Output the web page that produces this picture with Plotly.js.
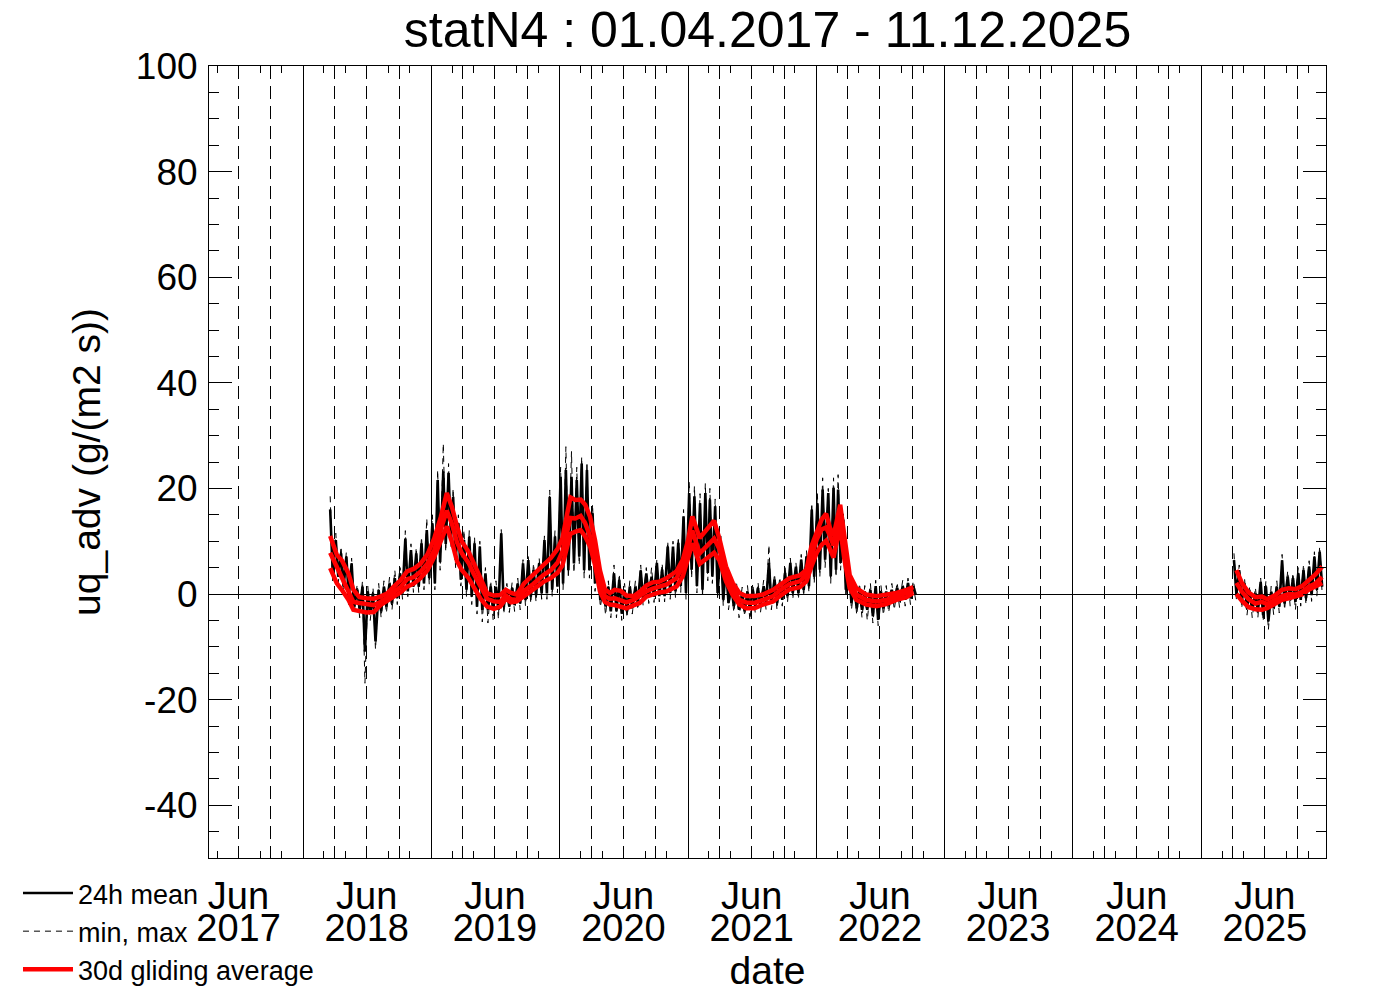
<!DOCTYPE html>
<html>
<head>
<meta charset="utf-8">
<script src="https://cdn.plot.ly/plotly-3.0.1.min.js"></script>
<style>html,body{margin:0;padding:0;background:#fff;}#chart{width:1388px;height:992px;}</style>
</head>
<body>
<div id="chart"></div>
<script>
// ---------- tick labels ----------
const labelDates = ['2017-07-01','2018-07-01','2019-07-01','2020-07-01','2021-07-01','2022-07-01','2023-07-01','2024-07-01','2025-07-01'];
const monthLabels = ['Jun','Jun','Jun','Jun','Jun','Jun','Jun','Jun','Jun'];
const yearLabels = ['2017','2018','2019','2020','2021','2022','2023','2024','2025'];
const yTickVals = [-40,-20,0,20,40,60,80,100];
const yTickText = ['-40','-20','0','20','40','60','80','100'];

// ---------- 24h mean and min/max envelopes, semi-monthly, segment A (Mar 2018 - Oct 2022) ----------
const segAFirst = [2018, 3, 1];   // year, month, half (0 = 1st half, 1 = 2nd half)
const meanHiA = [16.0,10.2,7.7,7.1,5.8,0.8,1.4,0.5,0.1,0.8,1.4,2.0,3.0,3.9,10.5,8.3,7.7,9.6,12.1,
  13.4,21.6,23.2,22.9,18.4,13.4,10.2,10.9,9.6,9.0,3.9,1.4,1.4,11.5,0.8,1.1,2.0,5.8,6.4,4.5,5.8,10.2,18.4,10.9,
  22.2,23.5,22.2,21.6,24.7,23.5,15.3,5.8,0.8,1.4,3.9,2.7,0.8,1.4,1.4,4.5,3.9,3.3,5.9,4.6,9.0,9.0,9.7,14.7,
  19.1,18.5,17.2,19.1,17.9,16.6,9.7,5.2,1.5,0.8,0.2,0.5,0.8,1.1,1.5,5.9,2.7,2.1,4.0,5.9,5.2,6.5,7.1,16.0,
  17.2,19.8,19.1,20.1,19.8,14.1,4.6,1.5,0.8,0.5,0.8,1.5,0.5,0.5,0.8,1.1,1.5,2.1,1.5];
const meanLoA = [4.5,3.3,1.4,-0.5,-2.4,-3.0,-10.9,-3.7,-9.0,-3.3,-2.4,-1.8,-0.8,0.1,0.5,1.4,1.4,2.0,3.0,
  2.0,6.0,9.5,10.5,6.5,2.7,0.8,-0.5,-2.4,-3.0,-3.0,-3.0,-3.0,-2.4,-2.4,-2.1,-1.8,-1.1,-0.5,-0.2,0.1,0.1,0.8,1.4,
  2.0,4.5,5.8,7.1,4.5,4.5,2.0,-1.1,-2.4,-3.3,-3.3,-3.7,-3.3,-2.7,-1.8,-1.1,-0.5,-0.5,-0.4,-0.4,0.2,0.5,1.5,0.2,
  4.6,1.5,0.8,4.0,3.3,0.2,-1.1,-1.7,-2.3,-3.0,-3.3,-3.0,-2.3,-2.3,-1.7,-1.7,-1.7,-1.1,-0.4,0.2,0.2,0.8,1.5,3.3,
  4.6,6.5,3.3,4.6,5.9,0.8,-1.7,-2.7,-3.0,-3.0,-4.2,-4.9,-2.7,-2.3,-1.7,-1.4,-1.1,-0.8,-0.1];
const maxHiA = [18.5,11.5,9.0,8.0,6.8,1.8,2.5,1.5,1.2,2.0,2.5,3.2,4.5,5.0,12.0,9.5,8.8,10.8,14.3,
  15.0,23.5,28.5,24.7,20.0,15.0,12.1,12.0,10.8,10.0,5.0,2.5,2.5,12.2,2.0,2.2,3.0,6.5,7.1,5.8,6.8,11.0,19.7,12.0,
  24.0,27.9,27.0,24.0,26.0,25.0,17.0,7.0,2.0,2.5,5.5,3.8,2.0,2.5,2.5,5.5,5.0,5.0,6.5,5.8,10.0,10.0,10.8,16.0,
  21.3,20.5,19.0,21.0,20.0,18.0,11.0,6.3,2.6,2.0,1.3,1.6,2.0,2.2,2.6,9.3,3.8,3.2,5.2,6.8,5.9,7.5,8.2,17.2,
  19.0,22.0,20.0,22.0,22.6,15.5,5.7,2.6,2.0,1.6,2.0,2.6,1.6,1.6,2.0,2.2,2.6,3.0,2.5];
const minLoA = [2.5,2.0,0.0,-2.0,-3.7,-4.5,-16.9,-5.0,-10.5,-4.5,-3.6,-3.0,-2.0,-1.0,-0.5,0.3,0.3,0.8,1.8,
  0.8,4.5,8.0,9.0,5.0,1.5,-0.5,-2.0,-3.8,-5.3,-5.5,-5.0,-4.8,-3.8,-3.5,-3.3,-3.0,-2.3,-1.8,-1.5,-1.0,-1.0,-0.5,0.2,
  0.8,3.0,4.0,5.5,3.0,3.0,0.5,-2.5,-4.0,-4.5,-4.5,-5.0,-4.5,-3.8,-3.0,-2.3,-1.8,-1.6,-1.5,-1.5,-1.0,-0.7,0.3,-1.0,
  3.0,0.2,-0.5,2.5,2.0,-1.0,-2.3,-3.0,-3.5,-4.5,-4.2,-5.0,-3.5,-3.5,-3.0,-3.0,-3.0,-2.3,-1.6,-1.0,-1.0,-0.4,0.3,2.0,
  3.2,5.0,2.0,3.2,4.5,-0.5,-3.0,-4.0,-4.5,-5.0,-5.5,-6.0,-4.0,-3.5,-3.0,-2.6,-2.3,-2.0,-1.2];

// ---------- segment B (Apr 2025 - Dec 2025) ----------
const segBFirst = [2025, 4, 0];
const meanHiB = [6.4,4.5,2.0,0.4,0.1,2.3,1.4,0.4,1.4,6.4,3.3,3.0,3.9,4.5,5.2,7.1,8.0];
const meanLoB = [0.0,-1.5,-2.7,-3.0,-3.3,-4.0,-5.2,-2.7,-2.4,-1.8,-1.1,-1.5,-1.1,-0.8,-0.2,0.8,1.4];
const maxHiB = [7.7,5.5,3.0,1.5,1.2,3.0,2.5,1.5,2.5,7.5,4.4,4.0,5.0,5.6,6.3,8.0,9.0];
const minLoB = [-1.2,-2.7,-4.0,-4.5,-4.5,-5.2,-6.8,-3.9,-3.6,-3.0,-2.3,-3.0,-2.3,-2.0,-1.4,-0.4,0.2];

// ---------- 30d gliding averages (upper, mean, lower) ----------
const redDates = ['2018-03-19','2018-04-07','2018-04-21','2018-05-10','2018-05-24','2018-06-10','2018-07-01','2018-07-21','2018-08-09','2018-08-28',
  '2018-09-16','2018-10-05','2018-10-24','2018-11-13','2018-12-01','2018-12-21','2019-01-09','2019-01-28','2019-02-14','2019-03-01',
  '2019-03-15','2019-03-29','2019-04-17','2019-05-01','2019-05-21','2019-06-09','2019-06-28','2019-07-16','2019-08-01','2019-08-16',
  '2019-09-01','2019-09-22','2019-10-18','2019-11-16','2019-12-07','2019-12-26','2020-01-09','2020-01-23','2020-02-01','2020-02-15',
  '2020-03-01','2020-03-14','2020-03-28','2020-04-11','2020-04-25','2020-05-09','2020-05-23','2020-06-06','2020-06-23','2020-07-09',
  '2020-07-31','2020-08-16','2020-09-04','2020-09-22','2020-10-10','2020-11-01','2020-11-29','2020-12-17','2021-01-01','2021-01-13',
  '2021-02-03','2021-03-16','2021-03-31','2021-04-19','2021-05-08','2021-05-27','2021-06-15','2021-07-09','2021-08-02','2021-08-31',
  '2021-09-19','2021-10-17','2021-11-15','2021-12-04','2021-12-18','2022-01-02','2022-01-16','2022-01-29','2022-02-09','2022-02-19',
  '2022-02-28','2022-03-10','2022-03-22','2022-04-06','2022-04-25','2022-05-23','2022-06-21','2022-07-19','2022-08-17','2022-09-15',
  '2022-10-04','2023-06-01',
  '2025-04-11','2025-04-27','2025-05-16','2025-06-04','2025-06-23','2025-07-07','2025-07-31','2025-08-19','2025-09-07','2025-09-26',
  '2025-10-15','2025-11-03','2025-11-22','2025-12-11'];
const redUpper = [11.0,7.4,6.4,3.9,0.8,-0.6,-0.8,-0.9,-0.5,0.1,
  1.4,2.6,4.3,4.8,5.7,7.5,10.5,14.6,19.1,16.4,
  12.8,9.9,8.0,6.1,3.0,0.1,-0.3,-0.2,0.8,0.2,
  -0.1,2.0,3.6,5.6,6.8,8.5,10.5,15.3,18.3,17.8,
  17.9,16.9,14.6,10.2,4.5,0.9,0.2,0.8,0.6,-0.3,
  -0.4,0.4,1.6,2.2,2.3,3.0,4.3,6.5,10.2,14.7,
  10.6,13.9,10.5,5.2,2.1,0.2,-0.4,-0.4,-0.1,0.8,
  1.6,3.0,3.5,4.6,9.0,11.6,14.1,15.2,12.5,11.0,
  13.5,16.9,10.9,3.6,1.1,-0.1,-0.4,-0.1,0.2,0.8,
  1.3,null,
  4.5,2.0,0.25,-0.6,-0.5,-1.0,-0.2,0.8,1.1,0.9,
  1.5,2.5,3.7,5.2];
const redMean = [7.8,5.2,3.3,0.8,-1.5,-1.7,-1.9,-2.1,-1.5,-0.7,
  0.4,1.3,2.8,3.2,4.2,5.8,8.3,12.1,15.8,13.2,
  9.8,7.7,5.9,3.9,1.2,-0.9,-1.4,-1.5,-0.3,-1.0,
  -1.1,0.6,1.9,3.6,4.5,5.9,8.0,12.1,14.4,14.3,
  14.8,13.4,10.9,7.5,2.5,-0.4,-0.9,-0.8,-1.1,-1.6,
  -1.1,-0.4,0.5,1.0,1.3,1.8,3.0,5.3,8.8,12.0,
  7.7,10.5,8.5,3.7,0.8,-1.1,-1.6,-1.7,-1.1,-0.4,
  0.7,1.9,2.4,3.6,7.1,10.3,12.2,12.6,11.0,9.2,
  12.5,14.5,7.8,2.1,-0.1,-1.1,-1.4,-1.1,-0.4,0.2,
  0.6,null,
  2.1,0.4,-1.0,-1.8,-1.5,-1.9,-1.1,-0.4,0.0,-0.1,
  0.4,1.4,2.0,3.2];
const redLower = [4.9,2.0,0.8,-1.1,-3.0,-3.3,-3.5,-3.4,-2.1,-1.3,
  -0.5,0.3,1.4,2.0,3.0,4.5,7.0,10.0,12.8,9.8,
  6.2,4.5,3.0,1.4,-0.9,-2.4,-2.8,-2.4,-0.9,-1.6,
  -1.4,-0.4,0.9,2.3,3.0,4.0,5.4,9.6,11.4,11.8,
  12.1,10.9,9.0,5.5,0.5,-1.5,-2.0,-2.1,-2.3,-2.7,
  -2.1,-1.7,-0.5,0.0,0.3,0.5,1.4,3.4,6.5,9.6,
  5.7,7.8,6.4,2.4,-0.2,-2.0,-2.7,-2.7,-2.0,-1.4,
  -0.4,0.9,1.3,2.4,5.2,7.8,9.3,10.1,8.5,6.9,
  9.9,12.5,6.5,1.1,-1.1,-2.0,-2.3,-1.9,-1.1,-0.6,
  0.2,null,
  0.0,-1.3,-2.5,-2.9,-3.0,-2.7,-1.8,-1.1,-0.8,-0.5,
  -0.1,0.8,1.4,2.1];

// ---------- build zig-zag traces from the semi-monthly envelopes ----------
function pad(n){ return (n < 10 ? '0' : '') + n; }
function periodDates(first, n){
  // hi sample on day 4 / 19, lo sample on day 11 / 26 of each half month
  let y = first[0], m = first[1], h = first[2];
  const hi = [], lo = [];
  for (let i = 0; i < n; i++){
    hi.push(y + '-' + pad(m) + '-' + (h ? '19' : '04'));
    lo.push(y + '-' + pad(m) + '-' + (h ? '26' : '11'));
    h++; if (h > 1){ h = 0; m++; if (m > 12){ m = 1; y++; } }
  }
  return {hi, lo};
}
function zig(first, topVals, botVals){
  const d = periodDates(first, topVals.length);
  const x = [], y = [];
  for (let i = 0; i < topVals.length; i++){
    x.push(d.hi[i]); y.push(topVals[i]);
    x.push(d.lo[i]); y.push(botVals[i]);
  }
  return {x, y};
}
function joinSeg(a, b){
  return {x: a.x.concat(['2023-06-01']).concat(b.x), y: a.y.concat([null]).concat(b.y)};
}
const meanZ = joinSeg(zig(segAFirst, meanHiA, meanLoA), zig(segBFirst, meanHiB, meanLoB));
const maxZ  = joinSeg(zig(segAFirst, maxHiA, meanLoA), zig(segBFirst, maxHiB, meanLoB));
const minZ  = joinSeg(zig(segAFirst, meanHiA, minLoA), zig(segBFirst, meanHiB, minLoB));

const FONT = '"Liberation Sans", Arial, Helvetica, sans-serif';
const xRange = ['2017-04-08', '2025-12-22'];

const traces = [
  {x: maxZ.x, y: maxZ.y, type:'scatter', mode:'lines', name:'min, max', legendrank:2,
   line:{color:'black', width:1, dash:'6px,5px'}, connectgaps:false, hoverinfo:'skip'},
  {x: minZ.x, y: minZ.y, type:'scatter', mode:'lines', name:'min', showlegend:false,
   line:{color:'black', width:1, dash:'6px,5px'}, connectgaps:false, hoverinfo:'skip'},
  {x: meanZ.x, y: meanZ.y, type:'scatter', mode:'lines', name:'24h mean', legendrank:1,
   line:{color:'black', width:2.6}, connectgaps:false},
  {x: redDates, y: redUpper, type:'scatter', mode:'lines', name:'30d upper', showlegend:false,
   line:{color:'#ff0000', width:4.5}, connectgaps:false},
  {x: redDates, y: redLower, type:'scatter', mode:'lines', name:'30d lower', showlegend:false,
   line:{color:'#ff0000', width:4.5}, connectgaps:false},
  {x: redDates, y: redMean, type:'scatter', mode:'lines', name:'30d gliding average', legendrank:3,
   line:{color:'#ff0000', width:4.5}, connectgaps:false},
  {x: [], y: [], xaxis:'x2', showlegend:false, hoverinfo:'skip'},
  {x: [], y: [], xaxis:'x3', showlegend:false, hoverinfo:'skip'}
];

const layout = {
  width:1388, height:992,
  paper_bgcolor:'white', plot_bgcolor:'white',
  margin:{l:209, r:62, t:66, b:134, pad:0, autoexpand:false},
  font:{family:FONT, color:'black', size:38},
  showlegend:true,
  title:{text:'statN4 : 01.04.2017 - 11.12.2025', font:{family:FONT, size:50, color:'black'},
         x:0.5, xref:'paper', xanchor:'center', y:0.988, yref:'container', yanchor:'top', automargin:false},
  xaxis:{type:'date', range:xRange, tickmode:'array', tickvals:labelDates, ticktext:monthLabels,
         ticks:'', showgrid:true, gridcolor:'black', gridwidth:1, griddash:'13px,7px',
         minor:{dtick:'M3', tick0:'2017-01-01', showgrid:true, gridcolor:'black', gridwidth:1, griddash:'13px,7px', ticks:''},
         showline:true, linecolor:'black', linewidth:1, mirror:true, zeroline:false, automargin:false,
         ticklabelstandoff:4, tickfont:{size:38}, fixedrange:true},
  xaxis2:{type:'date', overlaying:'x', anchor:'y', side:'bottom', range:xRange, tickmode:'array',
          tickvals:labelDates, ticktext:yearLabels, ticks:'', showgrid:false, showline:false, zeroline:false,
          ticklabelstandoff:44, tickfont:{size:38}, fixedrange:true, automargin:false,
          title:{text:'date', font:{size:39}, standoff:2}},
  xaxis3:{type:'date', overlaying:'x', anchor:'y', range:xRange, tick0:'2017-01-01', dtick:'M12',
          ticks:'', showticklabels:false, showgrid:true, gridcolor:'black', gridwidth:1, automargin:false,
          minor:{dtick:'M2', tick0:'2017-01-01', ticks:'inside', ticklen:7, tickcolor:'black', tickwidth:1, showgrid:false},
          mirror:'ticks', showline:true, linecolor:'black', linewidth:1, zeroline:false, fixedrange:true},
  yaxis:{range:[-50,100], tickmode:'array', tickvals:yTickVals, ticktext:yTickText,
         ticks:'inside', ticklen:23, tickwidth:1, tickcolor:'black',
         minor:{dtick:5, tick0:0, ticks:'inside', ticklen:10, tickwidth:1, tickcolor:'black', showgrid:false},
         mirror:'ticks', showline:true, linecolor:'black', linewidth:1, showgrid:false,
         zeroline:true, zerolinecolor:'black', zerolinewidth:1, automargin:false,
         tickfont:{size:37}, ticklabelstandoff:3, fixedrange:true,
         title:{text:'uq_adv (g/(m2 s))', font:{size:39}, standoff:23}},
  legend:{x:-0.171, y:-0.0139, xanchor:'left', yanchor:'top', font:{size:27}, itemwidth:50,
          bgcolor:'rgba(0,0,0,0)', borderwidth:0, tracegroupgap:0, traceorder:'normal'}
};

Plotly.newPlot('chart', traces, layout, {displayModeBar:false, staticPlot:true});
</script>
</body>
</html>
